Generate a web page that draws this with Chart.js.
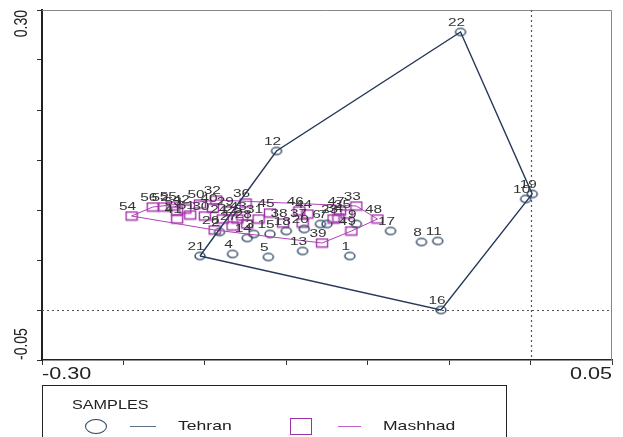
<!DOCTYPE html>
<html>
<head>
<meta charset="utf-8">
<script src="https://cdn.jsdelivr.net/npm/chart.js@4.4.1/dist/chart.umd.min.js"></script>
<style>
  body { margin:0; width:623px; height:437px; overflow:hidden; background:#fff; position:relative;
         font-family:"Liberation Sans", Arial, sans-serif; color:#222; }
  #plot { position:absolute; left:0; top:0; }
  .legend { position:absolute; left:42px; top:385px; width:465px; height:80px;
            border:1.5px solid #222; box-sizing:border-box; }
  .legend .t { position:absolute; transform:scaleX(1.35); transform-origin:left center; white-space:nowrap; }
  .legend .title { left:29px; top:12px; font-size:12px; }
  .legend .ell { position:absolute; left:42px; top:33px; width:20px; height:13px; border:1.5px solid #2c4562; border-radius:50%; }
  .legend .sq  { position:absolute; left:247px; top:32px; width:20px; height:15px; border:1.5px solid #a030a8; }
  .legend .ln  { position:absolute; top:40px; height:0; }
  .legend .row { top:32px; font-size:13px; }
</style>
</head>
<body>
<canvas id="plot" width="623" height="437"></canvas>

<div class="legend">
  <div class="t title">SAMPLES</div>
  <div class="ell"></div>
  <div class="ln" style="left:87px;width:26px;border-top:1.5px solid #5a6e88"></div>
  <div class="t row" style="left:135px">Tehran</div>
  <div class="sq"></div>
  <div class="ln" style="left:295px;width:23px;border-top:1.5px solid #c060c8"></div>
  <div class="t row" style="left:340px">Mashhad</div>
</div>

<script>
// ── DATA ──────────────────────────────────────────────────
const tehranIds = ['1','2','3','4','5','6','7','8','9','10','11','12','13','14','15','16','17','18','19','20','21','22'];
const tehranX = [-0.111, -0.191, -0.170, -0.183, -0.161, -0.129, -0.125, -0.067, -0.107, -0.003, -0.057,
                 -0.156, -0.140, -0.174, -0.160, -0.055, -0.086, -0.150,  0.001, -0.139, -0.203, -0.043];
const tehranY = [ 0.054,  0.078,  0.076,  0.056,  0.053,  0.086,  0.086,  0.068,  0.086,  0.111,  0.069,
                  0.159,  0.059,  0.072,  0.076,  0.000,  0.079,  0.079,  0.116,  0.081,  0.054,  0.278];

const mashhadIds = ['23','24','25','41','27','28','29','26','31','32','33','34','35','36','37','38','39',
                    '40','30','42','43','44','45','46','47','48','49','50','51','52','53','54','55','56'];
const mashhadX = [-0.121, -0.189, -0.180, -0.217, -0.183, -0.174, -0.185, -0.194, -0.167, -0.193, -0.107,
                  -0.118, -0.113, -0.175, -0.140, -0.152, -0.128, -0.195, -0.200, -0.212, -0.177, -0.137,
                  -0.160, -0.142, -0.117, -0.094, -0.110, -0.203, -0.209, -0.225, -0.217, -0.245, -0.220, -0.232];
const mashhadY = [ 0.091,  0.091,  0.091,  0.091,  0.084,  0.086,  0.099,  0.080,  0.091,  0.110,  0.104,
                   0.092,  0.096,  0.107,  0.087,  0.087,  0.067,  0.102,  0.094,  0.101,  0.094,  0.096,
                   0.097,  0.099,  0.099,  0.091,  0.079,  0.106,  0.095,  0.103,  0.099,  0.094,  0.104,  0.103];

const xTickValues = [-0.30, 0.05];
const xTickLabels = ['-0.30', '0.05'];
const yTickValues = [0.30, -0.05];
const yTickLabels = ['0.30', '-0.05'];

const TEHRAN = '#26395a', TEHRAN_PT = '#2c4562';
const MASHHAD = '#b040b8', MASHHAD_PT = '#a030a8';

// ── HELPERS ───────────────────────────────────────────────
function toPoints(xs, ys) { return xs.map((x, i) => ({ x, y: ys[i] })); }

// convex hull (monotone chain), closed
function hull(xs, ys) {
  const p = toPoints(xs, ys).sort((a, b) => a.x - b.x || a.y - b.y);
  const cross = (o, a, b) => (a.x - o.x) * (b.y - o.y) - (a.y - o.y) * (b.x - o.x);
  const lo = [], up = [];
  for (const q of p) { while (lo.length >= 2 && cross(lo[lo.length-2], lo[lo.length-1], q) <= 0) lo.pop(); lo.push(q); }
  for (const q of p.slice().reverse()) { while (up.length >= 2 && cross(up[up.length-2], up[up.length-1], q) <= 0) up.pop(); up.push(q); }
  const h = lo.slice(0, -1).concat(up.slice(0, -1));
  h.push(h[0]);
  return h;
}

function marker(kind, color) {
  const c = document.createElement('canvas');
  c.width = 14; c.height = 11;
  const g = c.getContext('2d');
  g.strokeStyle = color; g.lineWidth = 1.4;
  if (kind === 'ellipse') { g.beginPath(); g.ellipse(7, 5.5, 5, 3.6, 0, 0, Math.PI * 2); g.stroke(); }
  else g.strokeRect(1.5, 1.5, 11, 8);
  return c;
}

// ── PLUGIN: frame, zero lines, sample numbers, end labels ─
const decorations = {
  id: 'decorations',
  beforeDatasetsDraw(chart) {
    const { ctx, chartArea: a, scales: { x, y } } = chart;
    ctx.save();
    ctx.strokeStyle = '#888'; ctx.lineWidth = 1;
    ctx.beginPath();
    ctx.moveTo(a.left, a.top + 0.5); ctx.lineTo(a.right - 0.5, a.top + 0.5); ctx.lineTo(a.right - 0.5, a.bottom);
    ctx.stroke();
    ctx.strokeStyle = '#555'; ctx.setLineDash([2, 3]); ctx.lineWidth = 1.2;
    const x0 = Math.round(x.getPixelForValue(0)) + 0.5, y0 = Math.round(y.getPixelForValue(0)) + 0.5;
    ctx.beginPath();
    ctx.moveTo(x0, a.top); ctx.lineTo(x0, a.bottom);
    ctx.moveTo(a.left, y0); ctx.lineTo(a.right, y0);
    ctx.stroke();
    ctx.restore();
  },
  afterDatasetsDraw(chart) {
    const { ctx } = chart;
    ctx.save();
    ctx.font = '11px "Liberation Sans", Arial, sans-serif';
    ctx.fillStyle = '#333';
    ctx.textAlign = 'center'; ctx.textBaseline = 'bottom';
    chart.data.datasets.forEach((ds, i) => {
      if (!ds.ids) return;
      chart.getDatasetMeta(i).data.forEach((pt, j) => {
        ctx.save();
        ctx.translate(pt.x - 4, pt.y - 4);
        ctx.scale(1.4, 1);
        ctx.fillText(ds.ids[j], 0, 0);
        ctx.restore();
      });
    });
    ctx.restore();
  },
  afterDraw(chart) {
    const { ctx, scales: { x, y } } = chart;
    ctx.save();
    ctx.fillStyle = '#222';
    ctx.font = '16px "Liberation Sans", Arial, sans-serif';
    ctx.textBaseline = 'top';
    xTickValues.forEach((v, i) => {
      ctx.save();
      ctx.translate(x.getPixelForValue(v), x.bottom + 2);
      ctx.scale(1.35, 1);
      ctx.textAlign = i === 0 ? 'left' : 'right';
      ctx.fillText(xTickLabels[i], 0, 0);
      ctx.restore();
    });
    ctx.font = '14px "Liberation Sans", Arial, sans-serif';
    ctx.textBaseline = 'middle';
    yTickValues.forEach((v, i) => {
      ctx.save();
      ctx.translate(22, y.getPixelForValue(v));
      ctx.scale(1.3, 1);
      ctx.rotate(-Math.PI / 2);
      ctx.textAlign = i === 0 ? 'right' : 'left';
      ctx.fillText(yTickLabels[i], 0, 0);
      ctx.restore();
    });
    ctx.restore();
  }
};

// ── CHART ─────────────────────────────────────────────────
const axisBase = {
  type: 'linear',
  ticks: { display: false, stepSize: 0.05 },
  grid: { drawOnChartArea: false, drawTicks: true, tickLength: 5, color: '#333', tickColor: '#333' },
  border: { display: true, color: '#222' }
};

new Chart(document.getElementById('plot'), {
  type: 'scatter',
  data: {
    datasets: [
      { data: hull(tehranX, tehranY), showLine: true, borderColor: TEHRAN, borderWidth: 1.4,
        pointRadius: 0, fill: false, tension: 0 },
      { data: hull(mashhadX, mashhadY), showLine: true, borderColor: MASHHAD, borderWidth: 1,
        pointRadius: 0, fill: false, tension: 0 },
      { data: toPoints(tehranX, tehranY), ids: tehranIds, pointStyle: marker('ellipse', TEHRAN_PT), pointRadius: 5 },
      { data: toPoints(mashhadX, mashhadY), ids: mashhadIds, pointStyle: marker('rect', MASHHAD_PT), pointRadius: 5 }
    ]
  },
  options: {
    responsive: false,
    animation: false,
    layout: { padding: { left: 37, top: 10, right: 11, bottom: 72 } },
    plugins: { legend: { display: false }, tooltip: { enabled: false } },
    scales: {
      x: { ...axisBase, min: -0.30, max: 0.05, border: { ...axisBase.border, width: 1.5 } },
      y: { ...axisBase, min: -0.05, max: 0.30, border: { ...axisBase.border, width: 2 } }
    }
  },
  plugins: [decorations]
});
</script>
</body>
</html>
